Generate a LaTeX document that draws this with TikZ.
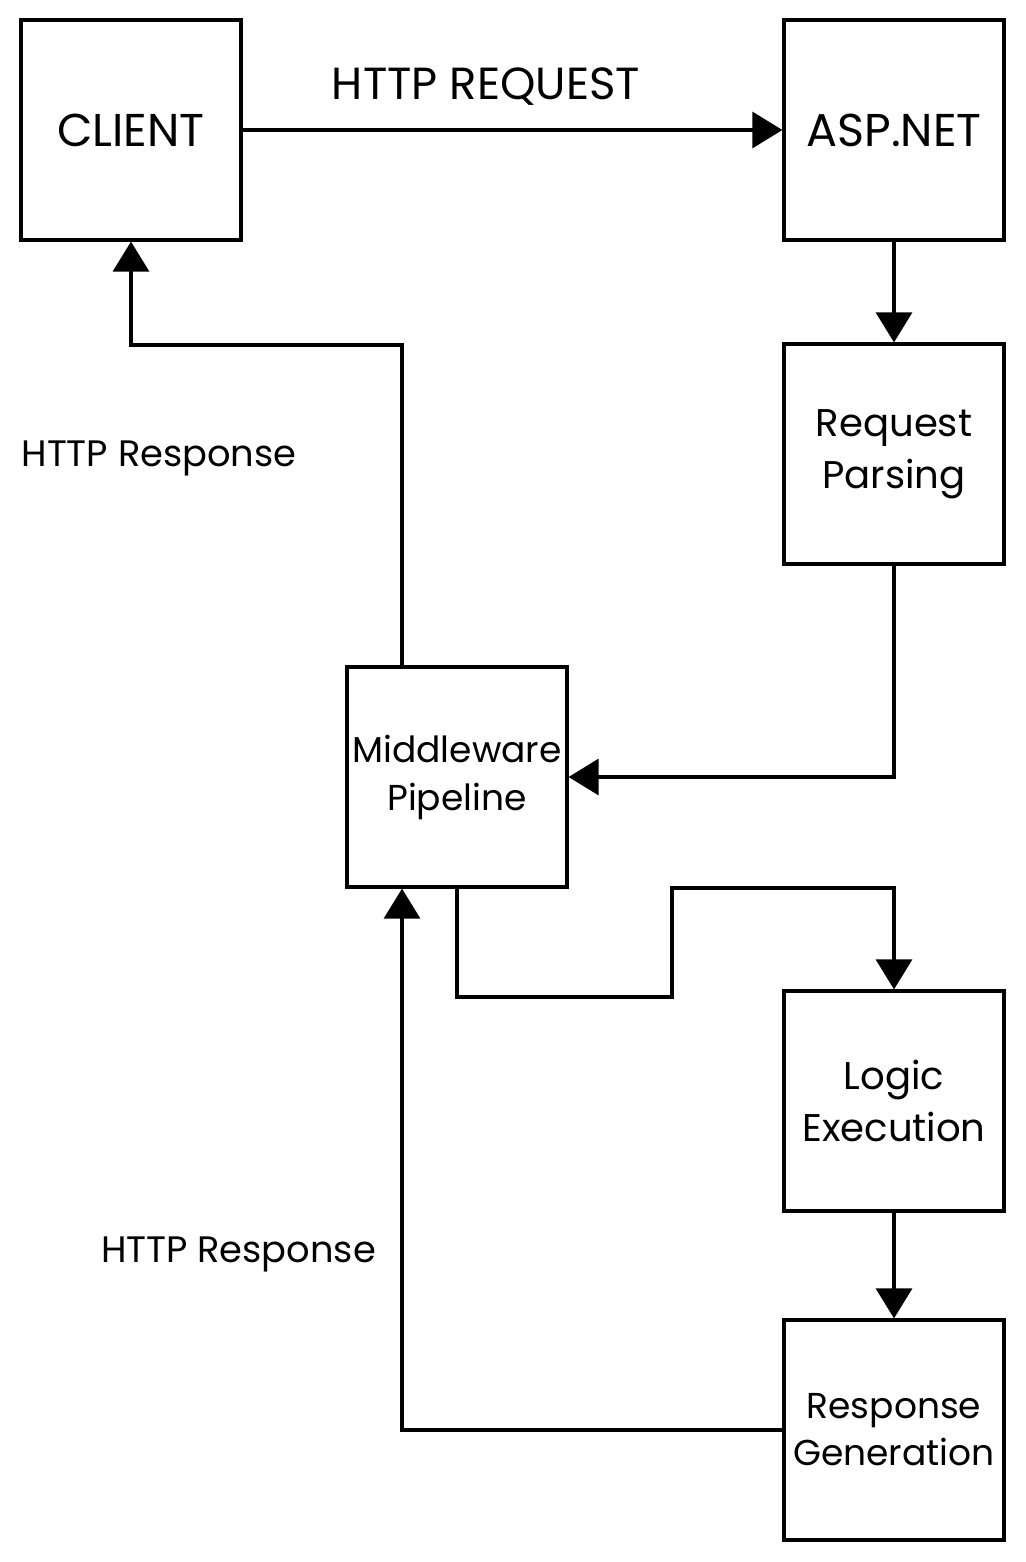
\documentclass[tikz,border=0pt]{standalone}
\usepackage{fontspec}
\setmainfont{Poppins}
\usetikzlibrary{arrows.meta}
\begin{document}
\begin{tikzpicture}[x=0.5pt,y=-0.5pt,
  box/.style={draw,line width=1.6pt,minimum width=110pt,minimum height=110pt,inner sep=0pt,align=center,font=\fontsize{18}{25}\selectfont},
  capbox/.style={box,font=\fontsize{23}{27}\selectfont},
  bigbox/.style={box,font=\fontsize{19.3}{26}\selectfont},
  conn/.style={line width=1.6pt,-{Triangle[width=18pt,length=15pt]}},
  lbl/.style={inner sep=0pt,font=\fontsize{18.4}{22}\selectfont}]
\useasboundingbox (0,0) rectangle (1025,1562);
\node[capbox] (client) at (131,130) {CLIENT};
\node[capbox] (asp) at (894,130) {ASP.NET};
\node[bigbox] (parse) at (894,454) {Request\\Parsing};
\node[box,font=\fontsize{18}{24}\selectfont] (mid) at (457,777) {Middleware\\Pipeline};
\node[bigbox] (logic) at (894,1101) {Logic\\Execution};
\node[box,font=\fontsize{18}{23.5}\selectfont] (resp) at (894,1430) {Response\\Generation};
\draw[conn] (client.east) -- (asp.west);
\node[lbl,font=\fontsize{22.5}{26}\selectfont] (req) at (486,87) {HTTP REQUEST};
\draw[conn] (asp.south) -- (parse.north);
\draw[conn] (parse.south) |- (mid.east);
\coordinate (c1) at (402,345);
\draw[conn] (mid.north -| c1) -- (c1) -| (client.south);
\node[lbl,anchor=base] (r1) at (159,466) {HTTP Response};
\coordinate (d1) at (457,997);
\coordinate (d2) at (672,997);
\coordinate (d3) at (672,888);
\coordinate (d4) at (894,888);
\draw[conn] (mid.south) -- (d1) -- (d2) -- (d3) -- (d4) -- (logic.north);
\draw[conn] (logic.south) -- (resp.north);
\coordinate (e1) at (402,1430);
\draw[conn] (resp.west) -- (e1) -- (mid.south -| e1);
\node[lbl,anchor=base] (r2) at (238.5,1262) {HTTP Response};
\end{tikzpicture}
\end{document}
